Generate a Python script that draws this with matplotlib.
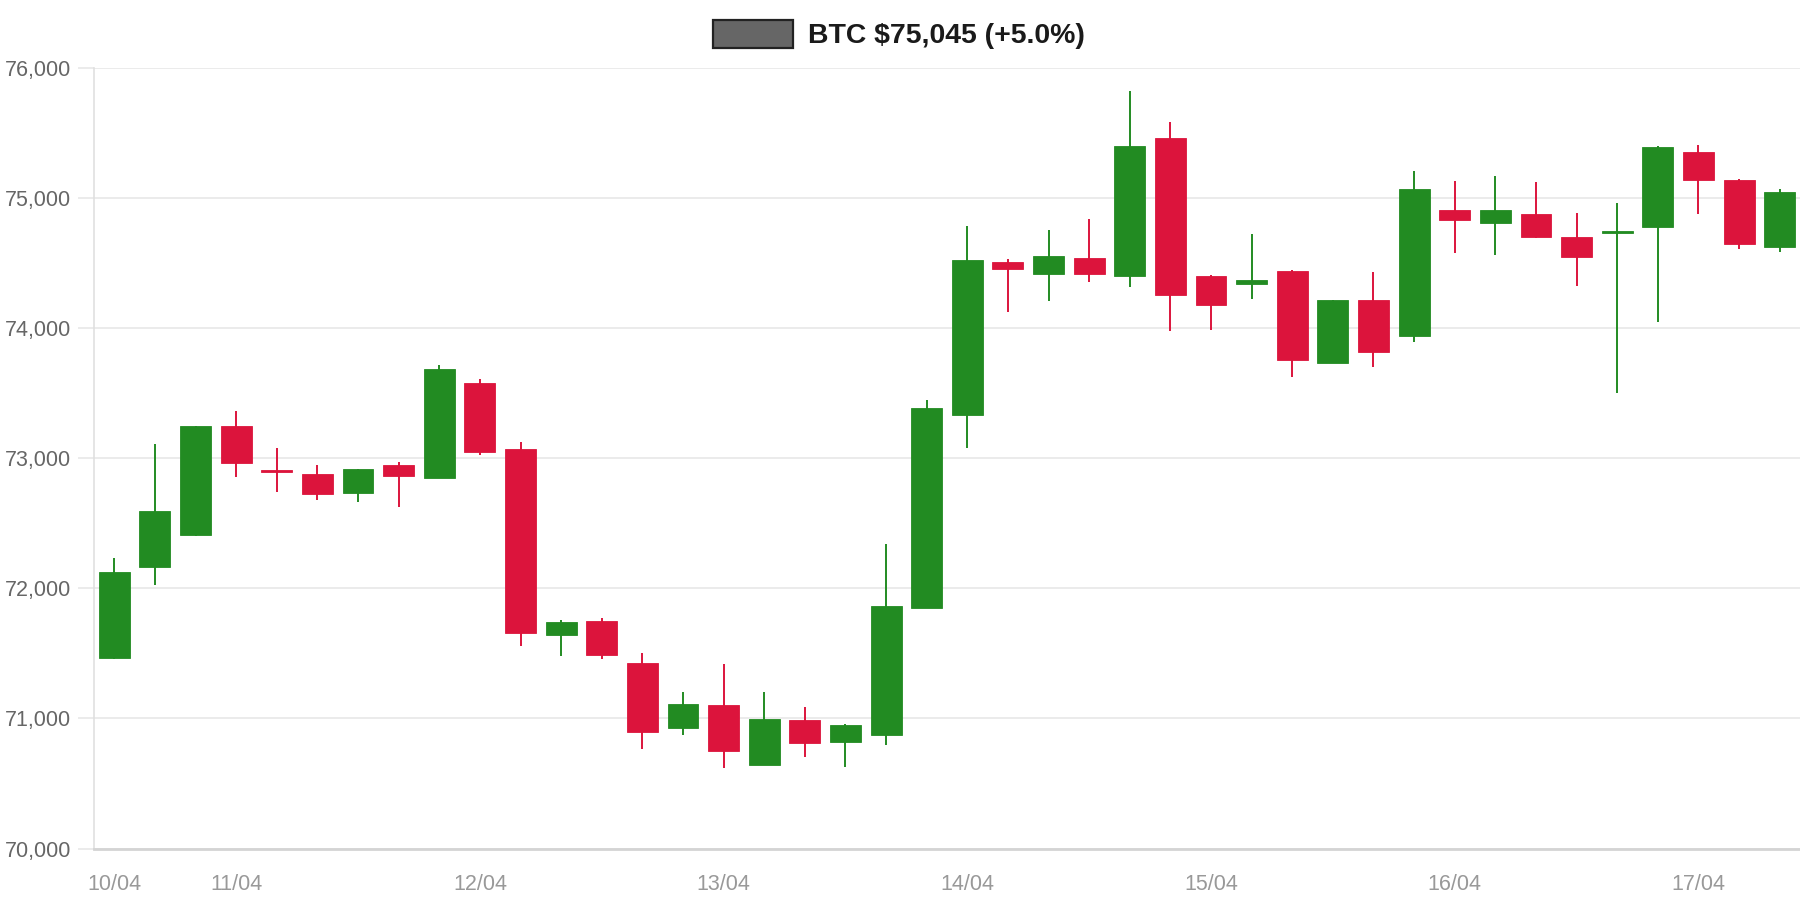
import matplotlib
matplotlib.use("Agg")
import matplotlib.pyplot as plt
from matplotlib.patches import Rectangle
from matplotlib.ticker import FuncFormatter

plt.rcParams['font.family'] = ['Liberation Sans', 'DejaVu Sans']

# 4h candles, 10/04 12:00 -> 17/04 08:00
opens = [71465, 72165, 72410, 73248, 72905, 72875, 72730, 72950, 72847, 73574,
         73067, 71642, 71748, 71422, 70927, 71104, 70641, 70986, 70817, 70876,
         71846, 73330, 74508, 74418, 74535, 74402, 75462, 74398, 74340, 74441,
         73731, 74214, 73939, 74909, 74803, 74873, 74697, 74730, 74775, 75352,
         75140, 74622]
highs = [72230, 73105, 73250, 73365, 73075, 72950, 72920, 72970, 73715, 73605,
         73120, 71755, 71770, 71505, 71200, 71420, 71200, 71090, 70955, 72337,
         73445, 74787, 74530, 74750, 74835, 75823, 75584, 74405, 74720, 74445,
         74215, 74433, 75203, 75132, 75168, 75124, 74880, 74964, 75395, 75403,
         75142, 75069]
lows = [71455, 72025, 72405, 72855, 72740, 72680, 72660, 72625, 72845, 73025,
        71555, 71480, 71455, 70765, 70875, 70615, 70640, 70705, 70625, 70798,
        71845, 73080, 74120, 74210, 74355, 74312, 73978, 73985, 74225, 73620,
        73730, 73703, 73892, 74579, 74559, 74695, 74320, 73499, 74045, 74877,
        74610, 74587]
closes = [72121, 72590, 73248, 72965, 72890, 72725, 72918, 72865, 73684, 73044,
          71655, 71740, 71485, 70896, 71108, 70751, 70994, 70810, 70947, 71866,
          73385, 74520, 74455, 74551, 74415, 75399, 74253, 74174, 74370, 73754,
          74214, 73813, 75070, 74826, 74905, 74697, 74547, 74742, 75391, 75140,
          74642, 75045]

day_labels = ['10/04', '11/04', '12/04', '13/04', '14/04', '15/04', '16/04', '17/04']
day_index = [0, 3, 9, 15, 21, 27, 33, 39]

title = "BTC $75,045 (+5.0%)"

up_col = '#228B22'
down_col = '#DC143C'

fig = plt.figure(figsize=(18, 9), dpi=100)
ax = fig.add_axes([94 / 1800, 1 - 848.5 / 900, (1800 - 94) / 1800, (848.5 - 67.7) / 900])

x = list(range(len(opens)))
cols = [up_col if c >= o else down_col for o, c in zip(opens, closes)]
bottoms = [min(o, c) for o, c in zip(opens, closes)]
heights = [max(abs(c - o), 12) for o, c in zip(opens, closes)]

ax.vlines(x, lows, highs, colors=cols, linewidth=1.4, zorder=2)
ax.bar(x, heights, bottom=bottoms, width=0.76, color=cols, edgecolor=cols,
       linewidth=0.6, zorder=3)

ax.set_xlim(-0.5, len(opens) - 0.5)
ax.set_ylim(70000, 76000)
ax.set_yticks(range(70000, 76001, 1000))
ax.yaxis.set_major_formatter(FuncFormatter(lambda v, p: f"{int(v):,}"))
ax.set_xticks(day_index)
ax.set_xticklabels(day_labels)

ax.grid(axis='y', color='#e8e8e8', linewidth=1.2, zorder=0)
ax.set_axisbelow(True)
for s in ['top', 'right']:
    ax.spines[s].set_visible(False)
ax.spines['left'].set_color('#e0e0e0')
ax.spines['left'].set_linewidth(1.2)
ax.spines['bottom'].set_color('#d4d4d4')
ax.spines['bottom'].set_linewidth(2)

ax.tick_params(axis='y', length=11.5, width=1.2, color='#e8e8e8', labelsize=15.5,
               labelcolor='#666666', pad=5)
ax.tick_params(axis='x', length=0, labelsize=15.5, labelcolor='#999999', pad=18.5)

# legend-like title
fig.patches.append(Rectangle((713 / 1800, 1 - 48 / 900), 80 / 1800, 28 / 900,
                             transform=fig.transFigure, facecolor='#666666',
                             edgecolor='#222222', linewidth=1.6))
fig.text(808 / 1800, 1 - 36 / 900, title, fontsize=20.4, fontweight='bold',
         color='#1a1a1a', va='center', ha='left')

fig.savefig('out.png', dpi=100)
